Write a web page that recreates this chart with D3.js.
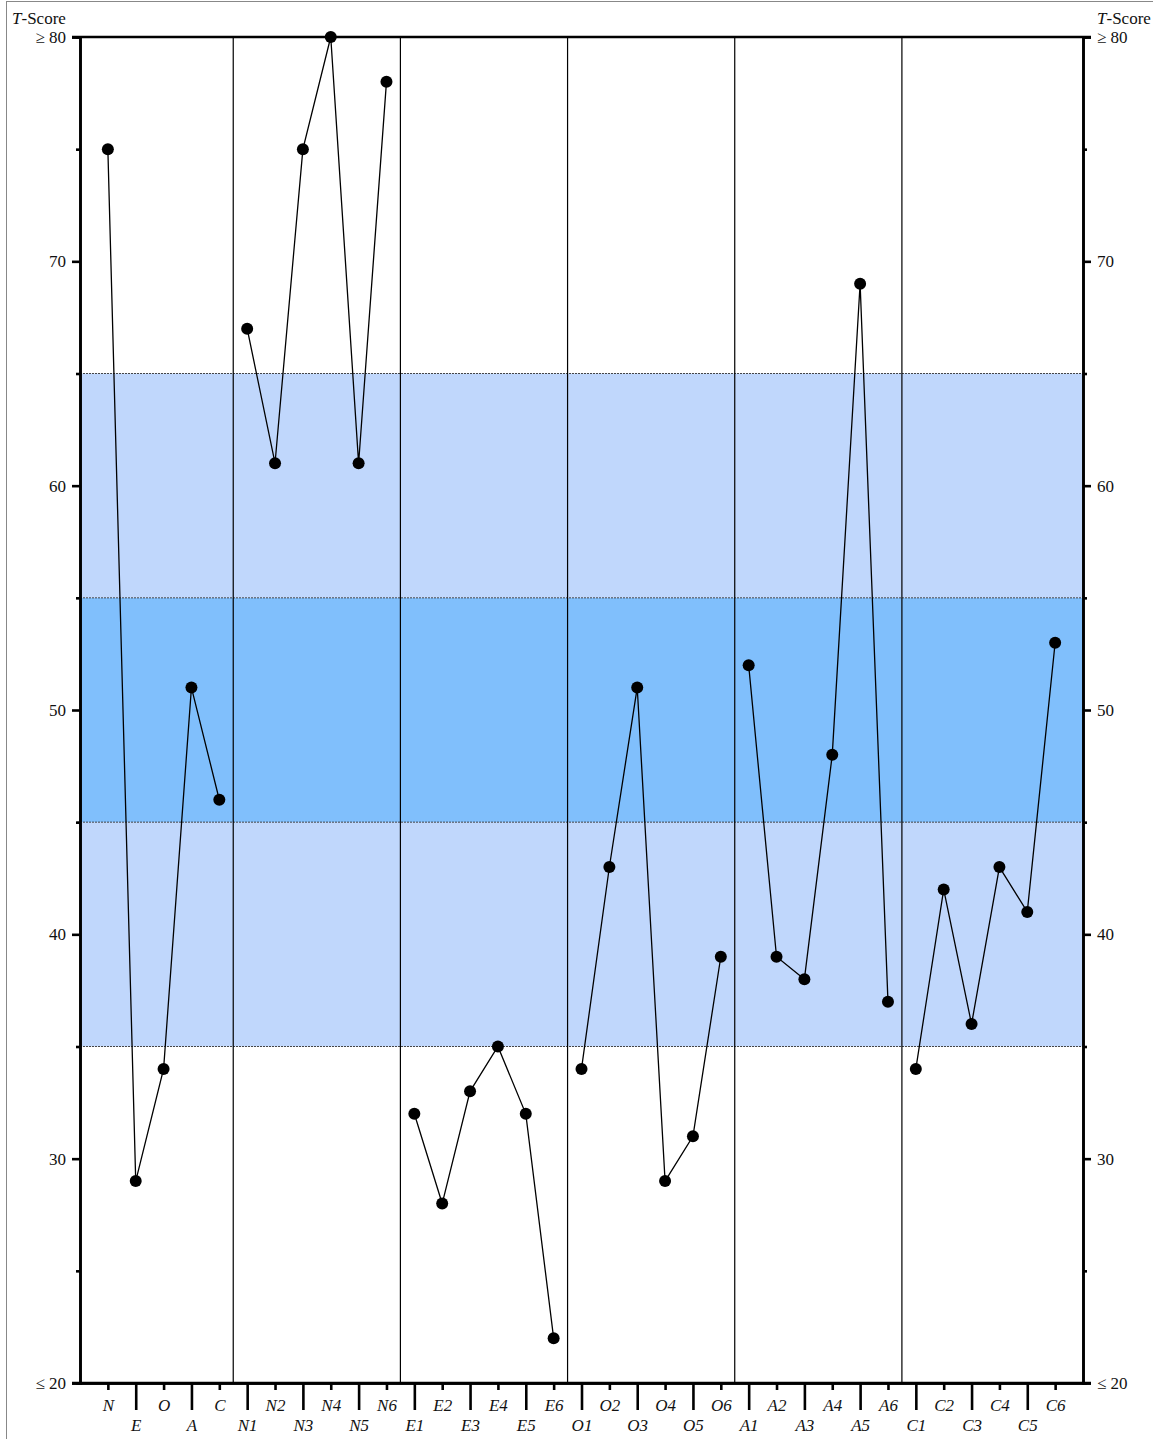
<!DOCTYPE html>
<html>
<head>
<meta charset="utf-8">
<script src="https://cdn.jsdelivr.net/npm/d3@7"></script>
<style>
  body { margin: 0; background: #fff; }
</style>
</head>
<body>
<div id="chart"></div>
<script>
// domains then facets, in plotting order
const categories = ['N','E','O','A','C',
  'N1','N2','N3','N4','N5','N6',
  'E1','E2','E3','E4','E5','E6',
  'O1','O2','O3','O4','O5','O6',
  'A1','A2','A3','A4','A5','A6',
  'C1','C2','C3','C4','C5','C6']
const scores = [75, 29, 34, 51, 46,
  67, 61, 75, 80, 61, 78,
  32, 28, 33, 35, 32, 22,
  34, 43, 51, 29, 31, 39,
  52, 39, 38, 48, 69, 37,
  34, 42, 36, 43, 41, 53]
// index ranges of each connected group
const groups = [[0, 5], [5, 11], [11, 17], [17, 23], [23, 29], [29, 35]]
const majorTicks = [20, 30, 40, 50, 60, 70, 80]
const minorTicks = [25, 35, 45, 55, 65, 75]
const bands = [
  { from: 35, to: 45, color: '#c0d7fc' },
  { from: 45, to: 55, color: '#80bffc' },
  { from: 55, to: 65, color: '#c0d7fc' }
]
const bandEdges = [35, 45, 55, 65]

const FONT = '"Liberation Serif", "DejaVu Serif", serif'
const W = 1153, H = 1439
const margin = { top: 37, right: 70, bottom: 56, left: 80 }
const width = W - margin.left - margin.right,
  height = H - margin.top - margin.bottom

const svg = d3.select('#chart').append('svg')
  .attr('width', W).attr('height', H)

// outer frame (cropped on right and bottom)
svg.append('rect')
  .attr('x', 6.5).attr('y', 1.5)
  .attr('width', W + 20).attr('height', H + 20)
  .attr('fill', 'none').attr('stroke', '#888').attr('stroke-width', 1)

const g = svg.append('g')
  .attr('transform', 'translate(' + margin.left + ',' + margin.top + ')')

const x = d3.scalePoint().domain(categories).range([0, width]).padding(1)
const y = d3.scaleLinear().domain([20, 80]).range([height, 0])

g.selectAll('.band').data(bands).enter().append('rect')
  .attr('x', 0).attr('width', width)
  .attr('y', d => y(d.to)).attr('height', d => y(d.from) - y(d.to))
  .attr('fill', d => d.color)

g.selectAll('.edge').data(bandEdges).enter().append('line')
  .attr('x1', -3).attr('x2', width)
  .attr('y1', d => y(d)).attr('y2', d => y(d))
  .attr('stroke', '#333').attr('stroke-width', 0.9)
  .attr('stroke-dasharray', '2,1')

// group dividers
const step = x.step()
g.selectAll('.divider').data(groups.slice(1)).enter().append('line')
  .attr('x1', d => x(categories[d[0]]) - step / 2)
  .attr('x2', d => x(categories[d[0]]) - step / 2)
  .attr('y1', 0).attr('y2', height)
  .attr('stroke', '#000').attr('stroke-width', 1.2)

const line = d3.line().x(d => x(d.c)).y(d => y(d.v))
groups.forEach(([a, b]) => {
  const pts = categories.slice(a, b).map((c, i) => ({ c: c, v: scores[a + i] }))
  g.append('path').datum(pts)
    .attr('d', line)
    .attr('fill', 'none').attr('stroke', '#000').attr('stroke-width', 1.3)
})

g.selectAll('.dot').data(categories).enter().append('circle')
  .attr('cx', d => x(d))
  .attr('cy', (d, i) => y(scores[i]))
  .attr('r', 6)
  .attr('fill', '#000')

const fmt = d => d === 80 ? '\u2265 80' : d === 20 ? '\u2264 20' : d

function styleAxis(sel) {
  sel.attr('font-family', null)
  sel.selectAll('path').attr('stroke', '#000').attr('stroke-width', 2.6)
  sel.selectAll('line').attr('stroke', '#000').attr('stroke-width', 2.6)
  sel.selectAll('text').style('font-size', '17px').style('font-family', FONT).attr('fill', '#111')
}

g.append('g').call(d3.axisLeft(y).tickValues(minorTicks).tickSize(4).tickFormat(''))
  .call(styleAxis)
g.append('g').call(d3.axisLeft(y).tickValues(majorTicks).tickSize(8).tickPadding(6).tickFormat(fmt))
  .call(styleAxis)
g.append('g').attr('transform', 'translate(' + width + ',0)')
  .call(d3.axisRight(y).tickValues(minorTicks).tickSize(4).tickFormat(''))
  .call(styleAxis)
g.append('g').attr('transform', 'translate(' + width + ',0)')
  .call(d3.axisRight(y).tickValues(majorTicks).tickSize(8).tickPadding(6).tickFormat(fmt))
  .call(styleAxis)

g.append('line')
  .attr('x1', -8).attr('x2', width + 8).attr('y1', 0).attr('y2', 0)
  .attr('stroke', '#000').attr('stroke-width', 2.6)

const upper = categories.filter((c, i) => i % 2 === 0)
const lower = categories.filter((c, i) => i % 2 === 1)
g.append('g').attr('transform', 'translate(0,' + height + ')')
  .call(d3.axisBottom(x).tickValues(upper).tickSize(7).tickPadding(9).tickSizeOuter(0))
  .call(styleAxis)
g.append('g').attr('transform', 'translate(0,' + height + ')')
  .call(d3.axisBottom(x).tickValues(lower).tickSize(27).tickPadding(9).tickSizeOuter(0))
  .call(styleAxis)
g.selectAll('.tick text').filter(function (d) { return typeof d === 'string' })
  .style('font-style', 'italic')

g.append('line')
  .attr('x1', -8).attr('x2', width + 8).attr('y1', height).attr('y2', height)
  .attr('stroke', '#000').attr('stroke-width', 2.6)

function scoreTitle(xPos) {
  const t = svg.append('text').attr('x', xPos).attr('y', 24)
    .style('font-size', '17px').style('font-family', FONT).attr('fill', '#111')
  t.append('tspan').style('font-style', 'italic').text('T')
  t.append('tspan').text('-Score')
}
scoreTitle(12)
scoreTitle(1097)
</script>
</body>
</html>
